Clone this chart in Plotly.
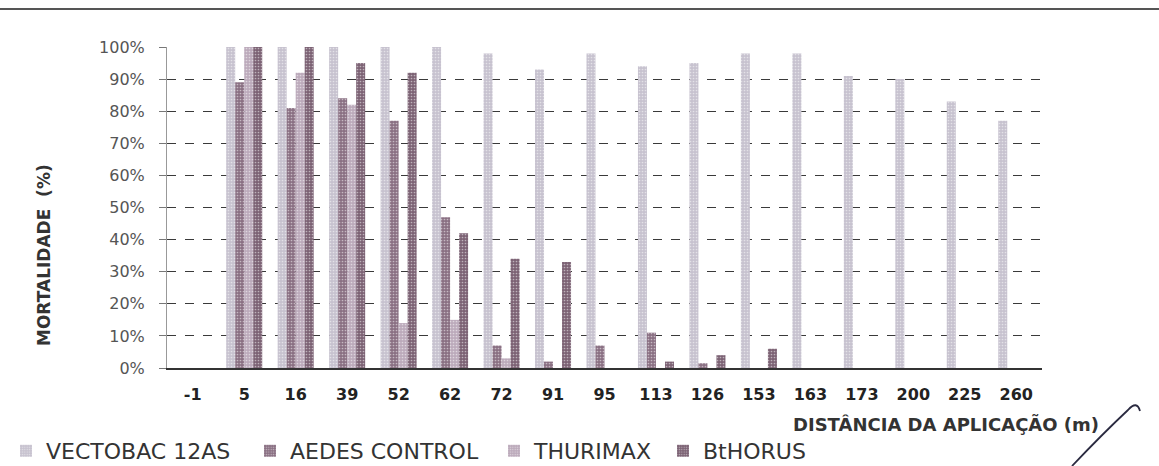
import plotly.graph_objects as go

categories = ["-1", "5", "16", "39", "52", "62", "72", "91", "95", "113",
              "126", "153", "163", "173", "200", "225", "260"]
vectobac = [0, 100, 100, 100, 100, 100, 98, 93, 98, 94, 95, 98, 98, 91, 90, 83, 77]
aedes_control = [0, 89, 81, 84, 77, 47, 7, 2, 7, 11, 1.5, 0, 0, 0, 0, 0, 0]
thurimax = [0, 100, 92, 82, 14, 15, 3, 0, 0, 0, 0, 0, 0, 0, 0, 0, 0]
bthorus = [0, 100, 100, 95, 92, 42, 34, 33, 0, 2, 4, 6, 0, 0, 0, 0, 0]
series_names = ["VECTOBAC 12AS", "AEDES CONTROL", "THURIMAX", "BtHORUS"]
series_colors = ["#c7c2cf", "#8a7083", "#bcaabb", "#7c6274"]
y_ticks = list(range(0, 101, 10))

# plot-area pixel geometry helpers
W, H = 1159, 466
L, R, T, B = 167, 1042, 47, 368
def px(xp):
    return (xp - L) / (R - L)
def py(yp):
    return (B - yp) / (B - T)

legend_ids = ["legend", "legend2", "legend3", "legend4"]
legend_left = [6, 250, 494, 663]

fig = go.Figure()
for name, vals, col, lid in zip(series_names, [vectobac, aedes_control, thurimax, bthorus],
                                series_colors, legend_ids):
    fig.add_trace(go.Bar(
        x=categories, y=vals, name=name, legend=lid,
        marker=dict(color=col, line=dict(width=0),
                    pattern=dict(shape=".", size=3, solidity=0.25,
                                 fgcolor="#ffffff", fillmode="overlay")),
    ))

legend_style = dict(orientation="h", xanchor="left", yanchor="middle",
                    xref="container", yref="container", y=1 - 451 / H,
                    font=dict(family="DejaVu Sans", size=22, color="#333"),
                    itemwidth=30, bgcolor="rgba(0,0,0,0)", borderwidth=0)
legends = {lid: dict(legend_style, x=xl / W) for lid, xl in zip(legend_ids, legend_left)}

fig.update_layout(
    width=W, height=H,
    margin=dict(l=L, r=W - R, t=T, b=H - B, autoexpand=False),
    paper_bgcolor="white", plot_bgcolor="white",
    barmode="group", bargap=0.3, bargroupgap=0,
    font=dict(family="DejaVu Sans", color="#333"),
    showlegend=True,
    xaxis=dict(type="category", showline=True, linecolor="#333", linewidth=1.5,
               ticks="", showgrid=False, automargin=False,
               tickfont=dict(family="DejaVu Sans", size=16, color="#222", weight="bold"),
               ticklabelstandoff=11),
    yaxis=dict(range=[0, 100], tickvals=y_ticks, ticktext=[f"{v}%" for v in y_ticks],
               showgrid=True, gridcolor="#3a3a3a", gridwidth=1, griddash="dash",
               zeroline=False, showline=True, linecolor="#999", linewidth=1,
               ticks="outside", ticklen=7, tickcolor="#777", automargin=False,
               tickfont=dict(family="DejaVu Sans", size=16, color="#555"),
               ticklabelstandoff=11),
    **legends,
)

fig.add_annotation(text="<b>MORTALIDADE  (%)</b>", xref="paper", yref="paper",
                   x=px(44), y=py(255), textangle=-90, showarrow=False,
                   xanchor="center", yanchor="middle",
                   font=dict(family="DejaVu Sans", size=17, color="#333"))
fig.add_annotation(text="<b>DISTÂNCIA DA APLICAÇÃO (m)</b>", xref="paper", yref="paper",
                   x=px(791), y=py(424), showarrow=False,
                   xanchor="left", yanchor="middle",
                   font=dict(family="DejaVu Sans", size=18, color="#333"))

# scan line across the top of the page
fig.add_shape(type="line", xref="paper", yref="paper",
              x0=px(0), x1=px(W), y0=py(9), y1=py(9),
              line=dict(color="#555", width=2))
# hand-drawn pen stroke
path = (f"M {px(1072)},{py(466)} C {px(1092)},{py(445)} {px(1112)},{py(425)} {px(1128)},{py(410)} "
        f"Q {px(1137)},{py(400)} {px(1140)},{py(411)}")
fig.add_shape(type="path", xref="paper", yref="paper", path=path,
              line=dict(color="#2a2a40", width=1.8))

fig.write_html("out.html", config={"displayModeBar": False},
               post_script="document.body.style.margin='0';document.body.style.overflow='hidden';")
